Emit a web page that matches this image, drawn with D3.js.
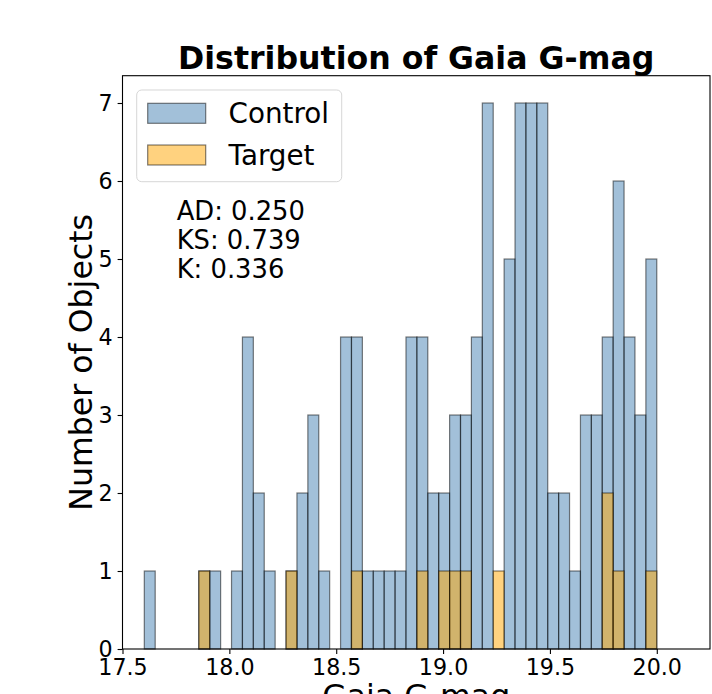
<!DOCTYPE html>
<html>
<head>
<meta charset="utf-8">
<script src="https://cdn.jsdelivr.net/npm/d3@7"></script>
<style>
  html, body { margin: 0; padding: 0; background: #fff; }
  svg { display: block; font-family: "DejaVu Sans", sans-serif; }
</style>
</head>
<body>
<svg id="chart" width="712" height="694"></svg>
<script>
// Histogram bins (Gaia G magnitude) shared by both samples
const binStart = 17.602;
const binWidth = 0.05102;
const binCount = 47;

// Counts per bin
const controlCounts = [1,0,0,0,0,1,1,0,1,4,2,1,0,1,2,3,1,0,4,4,1,1,1,1,4,4,2,2,3,3,4,7,0,5,7,7,7,2,2,1,3,3,4,6,4,3,5];
const targetCounts  = [0,0,0,0,0,1,0,0,0,0,0,0,0,1,0,0,0,0,0,1,0,0,0,0,0,1,0,1,1,1,0,0,1,0,0,0,0,0,0,0,0,0,2,1,0,0,1];

const seriesNames = ["Control", "Target"];
const xTicks = [17.5, 18.0, 18.5, 19.0, 19.5, 20.0];
const yTicks = [0, 1, 2, 3, 4, 5, 6, 7];
const statLines = ["AD: 0.250", "KS: 0.739", "K: 0.336"];

const edges = d3.range(binCount + 1).map(i => binStart + i * binWidth);
const toBins = counts => counts.map((c, i) => ({ x0: edges[i], x1: edges[i + 1], count: c }));

const series = [
  { name: seriesNames[0], bins: toBins(controlCounts), fill: "rgba(70,130,180,0.5)" },
  { name: seriesNames[1], bins: toBins(targetCounts), fill: "rgba(255,165,0,0.5)" }
];

const svg = d3.select("#chart");
const plotL = 122.5, plotR = 710, plotT = 75.7, plotB = 649;

const x = d3.scaleLinear().domain([17.5, 20.249]).range([plotL, plotR]);
const y = d3.scaleLinear().domain([0, 7.35]).range([plotB, plotT]);

// Bars
series.forEach(s => {
  svg.append("g")
    .selectAll("rect")
    .data(s.bins.filter(b => b.count > 0))
    .join("rect")
    .attr("x", d => x(d.x0))
    .attr("y", d => y(d.count))
    .attr("width", d => x(d.x1) - x(d.x0))
    .attr("height", d => y(0) - y(d.count))
    .attr("fill", s.fill)
    .attr("stroke", "rgba(0,0,0,0.5)")
    .attr("stroke-width", 1.2);
});

// Axes
const xAxis = d3.axisBottom(x).tickValues(xTicks).tickFormat(d3.format(".1f")).tickSize(4.9).tickPadding(4.9);
const yAxis = d3.axisLeft(y).tickValues(yTicks).tickFormat(d3.format("d")).tickSize(4.9).tickPadding(4.9);

const gx = svg.append("g").attr("transform", `translate(0,${plotB})`).call(xAxis);
const gy = svg.append("g").attr("transform", `translate(${plotL},0)`).call(yAxis);
[gx, gy].forEach(g => {
  g.select(".domain").remove();
  g.selectAll(".tick line").attr("stroke", "#000").attr("stroke-width", 1.1);
  g.selectAll(".tick text").attr("fill", "#000").style("font-size", "22.2px")
    .style("font-family", "'DejaVu Sans', sans-serif");
});

// Frame
svg.append("rect")
  .attr("x", plotL).attr("y", plotT)
  .attr("width", plotR - plotL).attr("height", plotB - plotT)
  .attr("fill", "none").attr("stroke", "#000").attr("stroke-width", 1.1);

// Title and axis labels
svg.append("text")
  .attr("x", (plotL + plotR) / 2).attr("y", 69)
  .attr("text-anchor", "middle")
  .style("font-size", "31.6px").style("font-weight", "bold")
  .text("Distribution of Gaia G-mag");

svg.append("text")
  .attr("x", (plotL + plotR) / 2).attr("y", 707)
  .attr("text-anchor", "middle")
  .style("font-size", "31.6px")
  .text("Gaia G-mag");

svg.append("text")
  .attr("transform", `translate(92,${(plotT + plotB) / 2}) rotate(-90)`)
  .attr("text-anchor", "middle")
  .style("font-size", "31.6px")
  .text("Number of Objects");

// Legend
const legend = svg.append("g");
legend.append("rect")
  .attr("x", 136.7).attr("y", 90).attr("width", 205).attr("height", 91.7)
  .attr("rx", 5).attr("fill", "rgba(255,255,255,0.8)")
  .attr("stroke", "rgba(204,204,204,0.8)").attr("stroke-width", 1);
series.forEach((s, i) => {
  const yy = 103.3 + i * 41.7;
  legend.append("rect")
    .attr("x", 147.7).attr("y", yy).attr("width", 58).attr("height", 20)
    .attr("fill", s.fill).attr("stroke", "rgba(0,0,0,0.5)").attr("stroke-width", 1.2);
  legend.append("text")
    .attr("x", 228.5).attr("y", yy + 20)
    .style("font-size", "27.8px")
    .text(s.name);
});

// Test statistics
svg.append("g").selectAll("text")
  .data(statLines)
  .join("text")
  .attr("x", 176.7)
  .attr("y", (d, i) => 219.5 + i * 29.3)
  .style("font-size", "25.8px")
  .text(d => d);
</script>
</body>
</html>
